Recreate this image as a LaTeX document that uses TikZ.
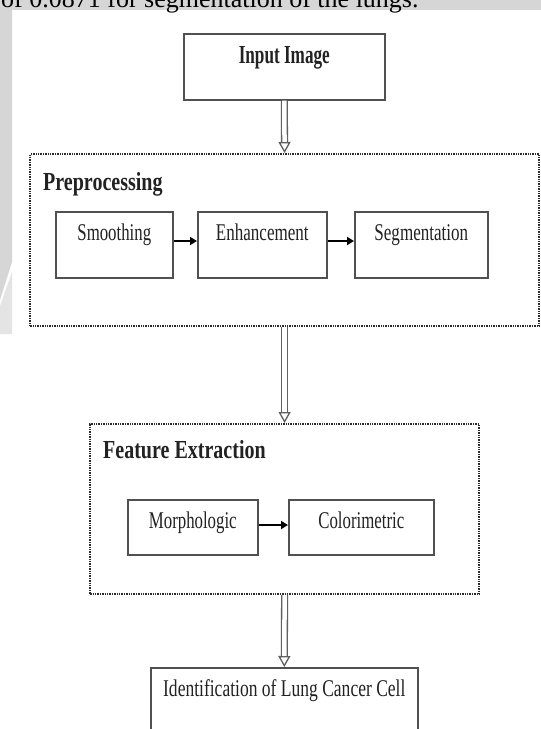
\documentclass[tikz,border=0pt]{standalone}
\usepackage{fontspec}
\setmainfont{Liberation Serif}
\usepackage{graphicx}
\usetikzlibrary{arrows.meta}
\definecolor{bandgray}{HTML}{D6D6D6}
\definecolor{wedgegray}{HTML}{E4E4E4}
\definecolor{boxline}{HTML}{505050}
\definecolor{dotline}{HTML}{2A2A2A}
\definecolor{txt}{HTML}{222222}
\definecolor{arrgray}{HTML}{606060}
\newcommand{\sqz}[2]{\scalebox{#1}[1]{#2}}
\begin{document}
\begin{tikzpicture}[x=1pt,y=-1pt,
  box/.style={draw=boxline, line width=1.6pt, fill=white, inner sep=0pt, anchor=north west},
  group/.style={draw=dotline, line width=2.2pt, dash pattern=on 1.4pt off 1pt, inner sep=0pt, anchor=north west},
  lbl/.style={anchor=base, inner sep=0pt, text=txt, font=\fontsize{24}{24}\selectfont},
  lblb/.style={anchor=base, inner sep=0pt, text=txt, font=\fontsize{26}{26}\selectfont\bfseries},
  ttl/.style={anchor=base west, inner sep=0pt, text=txt, font=\fontsize{26}{26}\selectfont\bfseries},
  flow/.style={line width=2.6pt, black, -{Triangle[length=7pt,width=8pt]}},
  hollow/.style={draw=arrgray, line width=1.3pt, double=white, double distance=4.5pt,
    -{Triangle[open, length=11pt, width=12pt, line width=1.3pt]}}
]
\useasboundingbox (0,0) rectangle (541,729);
\fill[white] (0,0) rectangle (541,729);
% page remnants
\fill[bandgray] (0,0) rectangle (541,10);
\fill[bandgray] (0,0) -- (12,0) -- (12,262) -- (0,300) -- cycle;
\fill[wedgegray] (0,306) -- (12,272) -- (12,334) -- (0,334) -- cycle;
\begin{scope}
\clip (0,0) rectangle (541,729);
\node[anchor=base west, inner sep=0pt, font=\fontsize{26}{26}\selectfont] (cut) at (1,7) {of 0.0871 for segmentation of the lungs.};
\end{scope}

% groups
\node[group, minimum width=509pt, minimum height=172pt] (pre) at (29,153) {};
\node[group, minimum width=389pt, minimum height=170pt] (feat) at (89,423) {};
\node[ttl] (pret) at (43,190) {\sqz{0.77}{Preprocessing}};
\node[ttl] (featt) at (103,458) {\sqz{0.77}{Feature Extraction}};

% boxes
\node[box, minimum width=201pt, minimum height=66pt] (input) at (183,33) {};
\node[lblb] (inputt) at ([yshift=-30pt]input.north) {\sqz{0.66}{Input Image}};

\node[box, minimum width=117pt, minimum height=66pt] (smooth) at (55,211) {};
\node[box, minimum width=129pt, minimum height=66pt] (enh) at (197,211) {};
\node[box, minimum width=133pt, minimum height=66pt] (seg) at (354,211) {};
\node[lbl] (smootht) at ([yshift=-29pt]smooth.north) {\sqz{0.70}{Smoothing}};
\node[lbl] (enht) at ([yshift=-29pt]enh.north) {\sqz{0.71}{Enhancement}};
\node[lbl] (segt) at ([yshift=-29pt]seg.north) {\sqz{0.71}{Segmentation}};

\node[box, minimum width=130pt, minimum height=55pt] (morph) at (127,499) {};
\node[box, minimum width=145pt, minimum height=55pt] (color) at (288,499) {};
\node[lbl] (morpht) at ([yshift=-29pt]morph.north) {\sqz{0.70}{Morphologic}};
\node[lbl] (colort) at ([yshift=-29pt]color.north) {\sqz{0.70}{Colorimetric}};

\node[box, minimum width=267pt, minimum height=100pt] (ident) at (150,667) {};
\node[lbl] (identt) at ([yshift=-29pt]ident.north) {\sqz{0.73}{Identification of Lung Cancer Cell}};

% connectors
\draw[flow] (smooth.east |- 0,241) -- (enh.west |- 0,241);
\draw[flow] (enh.east |- 0,241) -- (seg.west |- 0,241);
\draw[flow] (morph.east |- 0,525) -- (color.west |- 0,525);
\draw[hollow] (input.south) -- (pre.north);
\draw[hollow] (pre.south) -- (feat.north);
\draw[hollow] (feat.south) -- (ident.north);
\end{tikzpicture}
\end{document}
